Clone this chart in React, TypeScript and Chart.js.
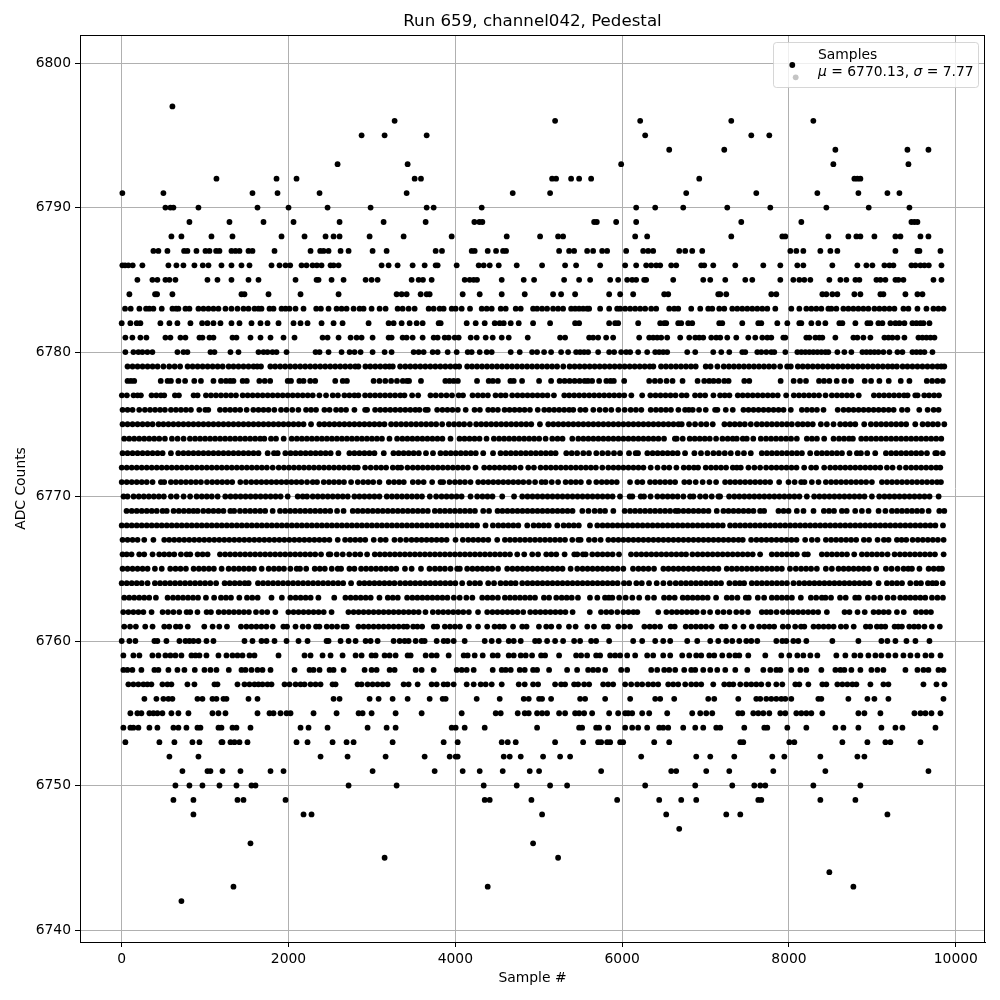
import React, { useEffect, useRef } from "react";
import { Chart, registerables } from "chart.js";

Chart.register(...registerables);

const chartTitle = "Run 659, channel042, Pedestal";
const xLabel = "Sample #";
const yLabel = "ADC Counts";
const legendTitle = "Samples";
const legendMean = "6770.13";
const legendSigma = "7.77";
const xTicks = [0, 2000, 4000, 6000, 8000, 10000];
const yTicks = [6740, 6750, 6760, 6770, 6780, 6790, 6800];

// Sample numbers, one array per ADC level.
const s6797 = [608];
const s6796 = [3272, 5196, 6216, 7308, 8292];
const s6795 = [2876, 3152, 3656, 6276, 7548, 7764];
const s6794 = [6564, 7224, 8556, 9420, 9672];
const s6793 = [2588, 3428, 5988, 8532, 9432];
const s6792 = [1136, 1856, 2096, 3512, 3588, 5160, 5208, 5388, 5484, 5628, 6924, 8784, 8820, 8856];
const s6791 = [8, 500, 1568, 1868, 2372, 3416, 4688, 5136, 6768, 7608, 8340, 8832, 9180, 9324];
const s6790 = [524, 584, 620, 920, 1628, 2000, 2468, 2984, 3656, 3740, 4316, 6168, 6396, 6732, 7260, 7776, 8448, 8956, 9444];
const s6789 = [812, 1292, 1700, 2060, 2612, 3140, 3644, 4228, 4288, 4324, 5664, 5696, 5928, 6168, 7428, 8148, 9468, 9504, 9540];
const s6788 = [596, 716, 1076, 1328, 1916, 2192, 2444, 2540, 2612, 2972, 3380, 3956, 4616, 5016, 5232, 5292, 6156, 6300, 7308, 7920, 7956, 8472, 8712, 8808, 8856, 9024, 9276, 9336, 9576, 9672];
const s6787 = [380, 440, 548, 748, 788, 896, 1004, 1052, 1132, 1172, 1316, 1364, 1412, 1520, 1568, 1832, 2264, 2380, 2420, 2480, 2624, 2720, 3008, 3176, 3764, 3840, 4196, 4232, 4388, 4488, 4572, 4608, 5244, 5364, 5424, 5580, 5652, 5760, 5820, 6048, 6252, 6312, 6372, 6684, 6756, 6840, 6960, 8016, 8088, 8172, 8376, 8496, 8580, 9276, 9540, 9564, 9816];
const s6786 = [8, 40, 80, 132, 248, 560, 656, 740, 872, 972, 1040, 1196, 1316, 1436, 1532, 1796, 1892, 1964, 2020, 2156, 2216, 2288, 2340, 2396, 2504, 2540, 2600, 3116, 3200, 3308, 3488, 3632, 3764, 3788, 4016, 4280, 4340, 4412, 4520, 4736, 5040, 5316, 5448, 5736, 6036, 6168, 6288, 6348, 6408, 6456, 6588, 6648, 6948, 6984, 7092, 7356, 7692, 7896, 8100, 8172, 8520, 8820, 8928, 9000, 9144, 9204, 9252, 9468, 9516, 9576, 9624, 9676, 9828];
const s6785 = [188, 368, 428, 524, 572, 644, 1028, 1148, 1316, 1520, 1640, 2084, 2336, 2360, 2516, 2660, 2924, 2996, 3068, 3476, 3560, 3612, 3716, 4112, 4172, 4220, 4260, 4556, 4820, 4944, 5304, 5484, 5616, 5856, 5952, 6060, 6120, 6168, 6264, 6288, 6612, 6972, 7056, 7236, 7476, 7560, 7896, 8052, 8124, 8184, 8256, 8484, 8616, 8688, 8796, 8844, 9048, 9096, 9156, 9276, 9312, 9372, 9732, 9828];
const s6784 = [92, 400, 424, 608, 1436, 1472, 1760, 2144, 2600, 3296, 3356, 3416, 3584, 3656, 3692, 4088, 4292, 4556, 4832, 5172, 5268, 5436, 5844, 5976, 6132, 6504, 6552, 7152, 7176, 7248, 7788, 7848, 8400, 8448, 8520, 8580, 8784, 8856, 9096, 9132, 9396, 9540, 9600];
const s6783 = [40, 108, 212, 292, 332, 380, 480, 608, 652, 680, 764, 812, 920, 980, 1040, 1100, 1160, 1244, 1316, 1388, 1460, 1520, 1592, 1640, 1676, 1772, 1820, 1916, 1964, 2012, 2084, 2180, 2332, 2388, 2480, 2576, 2636, 2696, 2780, 2852, 2900, 2996, 3092, 3164, 3308, 3368, 3440, 3512, 3680, 3740, 3812, 3860, 3956, 4004, 4076, 4176, 4316, 4376, 4436, 4544, 4604, 4724, 4784, 4932, 4980, 5040, 5100, 5172, 5232, 5292, 5388, 5436, 5484, 5532, 5580, 5604, 5736, 5844, 5940, 5976, 6036, 6096, 6156, 6216, 6276, 6348, 6408, 6564, 6624, 6672, 6828, 6936, 7032, 7080, 7164, 7224, 7320, 7380, 7440, 7500, 7560, 7620, 7680, 7740, 7836, 8028, 8124, 8208, 8268, 8328, 8388, 8472, 8508, 8568, 8652, 8712, 8772, 8832, 8892, 8952, 9024, 9084, 9144, 9204, 9264, 9372, 9432, 9540, 9648, 9732, 9792, 9852];
const s6782 = [0, 104, 180, 224, 464, 572, 668, 824, 964, 1028, 1100, 1184, 1316, 1412, 1556, 1664, 1748, 1880, 2060, 2144, 2228, 2396, 2540, 2648, 2960, 3200, 3260, 3356, 3452, 3536, 3608, 3800, 3824, 4136, 4244, 4352, 4472, 4532, 4580, 4664, 4760, 4932, 5136, 5436, 5484, 5844, 5916, 5952, 6192, 6456, 6504, 6528, 6672, 6708, 6792, 6840, 7164, 7200, 7440, 7632, 7668, 7860, 7980, 8124, 8148, 8268, 8352, 8436, 8604, 8640, 8796, 8940, 8976, 9072, 9120, 9216, 9276, 9324, 9384, 9480, 9528, 9576, 9612, 9684];
const s6781 = [44, 128, 224, 296, 524, 584, 704, 764, 932, 968, 1052, 1100, 1328, 1376, 1544, 1664, 1784, 1940, 2072, 2408, 2468, 2600, 2744, 2816, 2876, 3008, 3200, 3236, 3368, 3416, 3488, 3608, 3740, 3788, 3872, 3920, 3992, 4040, 4184, 4256, 4364, 4448, 4556, 4640, 4868, 5256, 5316, 5604, 5652, 5712, 5808, 5892, 6204, 6324, 6372, 6420, 6468, 6540, 6696, 6804, 6876, 6924, 6972, 7068, 7128, 7176, 7260, 7368, 7512, 7596, 7680, 7740, 7788, 7932, 7956, 8208, 8244, 8316, 8364, 8400, 8556, 8772, 8820, 8892, 8976, 9144, 9192, 9240, 9300, 9384, 9552, 9600, 9648, 9696, 9744];
const s6780 = [44, 140, 200, 248, 308, 368, 668, 740, 788, 1064, 1112, 1304, 1400, 1640, 1700, 1748, 1808, 1856, 1976, 2324, 2372, 2480, 2636, 2732, 2792, 2864, 3008, 3152, 3236, 3500, 3560, 3620, 3728, 3788, 3908, 4016, 4148, 4196, 4292, 4376, 4436, 4664, 4772, 4920, 4980, 5064, 5148, 5268, 5352, 5448, 5496, 5544, 5592, 5712, 5844, 5904, 5988, 6048, 6096, 6192, 6300, 6396, 6444, 6492, 6540, 6780, 6876, 7092, 7188, 7284, 7440, 7476, 7620, 7668, 7728, 7788, 7824, 7956, 8100, 8148, 8196, 8244, 8292, 8340, 8388, 8436, 8472, 8580, 8664, 8748, 8880, 8928, 8976, 9024, 9072, 9132, 9204, 9300, 9360, 9480, 9528, 9576, 9624, 9720];
const s6779 = [70, 130, 190, 250, 310, 370, 430, 500, 570, 635, 700, 790, 850, 910, 970, 1030, 1090, 1150, 1210, 1282, 1340, 1400, 1460, 1520, 1580, 1625, 1670, 1782, 1840, 1900, 1960, 2020, 2080, 2140, 2200, 2260, 2320, 2380, 2440, 2500, 2560, 2620, 2680, 2740, 2800, 2838, 2922, 2980, 3040, 3100, 3160, 3210, 3250, 3338, 3400, 3460, 3520, 3580, 3640, 3700, 3760, 3820, 3880, 3940, 4000, 4046, 4142, 4200, 4260, 4320, 4380, 4440, 4500, 4560, 4620, 4680, 4740, 4800, 4860, 4920, 4980, 5040, 5100, 5160, 5220, 5294, 5370, 5430, 5490, 5550, 5610, 5670, 5730, 5790, 5850, 5910, 5970, 6030, 6090, 6150, 6210, 6270, 6330, 6374, 6466, 6525, 6585, 6645, 6705, 6765, 6825, 6882, 7002, 7060, 7142, 7218, 7280, 7340, 7400, 7460, 7520, 7580, 7640, 7700, 7760, 7820, 7894, 7978, 8022, 8106, 8165, 8225, 8285, 8345, 8405, 8465, 8525, 8585, 8645, 8705, 8765, 8825, 8885, 8945, 9005, 9065, 9125, 9185, 9240, 9294, 9362, 9420, 9480, 9540, 9600, 9660, 9720, 9780, 9862, 9825];
const s6778 = [70, 110, 150, 468, 550, 590, 680, 760, 870, 950, 1100, 1190, 1250, 1300, 1340, 1450, 1500, 1650, 1715, 1780, 1990, 2030, 2130, 2180, 2260, 2320, 2560, 2650, 2700, 3020, 3090, 3160, 3230, 3300, 3370, 3420, 3445, 3588, 3880, 3930, 3980, 4030, 4260, 4400, 4450, 4510, 4660, 4700, 4800, 5004, 5148, 5250, 5310, 5370, 5430, 5490, 5550, 5590, 5640, 5724, 5810, 5860, 5900, 6024, 6324, 6392, 6456, 6532, 6604, 6724, 6904, 6984, 7044, 7096, 7156, 7224, 7276, 7464, 7524, 7900, 8056, 8132, 8204, 8360, 8420, 8484, 8572, 8664, 8744, 8908, 8984, 9084, 9196, 9340, 9444, 9652, 9716, 9780, 9844];
const s6777 = [2, 62, 142, 190, 230, 358, 415, 470, 510, 638, 686, 862, 910, 1010, 1070, 1130, 1190, 1250, 1310, 1370, 1450, 1510, 1570, 1630, 1690, 1750, 1810, 1870, 1930, 1990, 2050, 2110, 2170, 2230, 2290, 2370, 2450, 2530, 2592, 2670, 2730, 2790, 2838, 2918, 2978, 3038, 3098, 3158, 3218, 3278, 3340, 3390, 3482, 3554, 3702, 3765, 3830, 3894, 3960, 4040, 4092, 4206, 4270, 4330, 4390, 4482, 4545, 4602, 4682, 4745, 4805, 4865, 4925, 4985, 5045, 5105, 5182, 5306, 5365, 5425, 5485, 5545, 5605, 5665, 5725, 5785, 5845, 5905, 5965, 6025, 6110, 6240, 6338, 6400, 6460, 6520, 6580, 6640, 6714, 6772, 6874, 6935, 6995, 7094, 7174, 7230, 7286, 7386, 7445, 7505, 7565, 7625, 7685, 7745, 7805, 7865, 7966, 8058, 8120, 8180, 8240, 8300, 8360, 8438, 8514, 8575, 8635, 8695, 8754, 8836, 9018, 9080, 9140, 9200, 9260, 9320, 9380, 9422, 9514, 9542, 9622, 9680, 9740, 9798];
const s6776 = [10, 70, 130, 210, 278, 340, 400, 460, 518, 590, 650, 710, 770, 830, 930, 1002, 1038, 1178, 1240, 1300, 1360, 1420, 1498, 1578, 1640, 1700, 1760, 1830, 1910, 1975, 2045, 2118, 2210, 2270, 2330, 2430, 2492, 2570, 2630, 2690, 2790, 2918, 2942, 3038, 3100, 3160, 3220, 3280, 3340, 3400, 3460, 3520, 3570, 3642, 3670, 3782, 3845, 3905, 3965, 4030, 4124, 4230, 4294, 4394, 4450, 4510, 4590, 4650, 4710, 4770, 4830, 4894, 4988, 5066, 5125, 5185, 5245, 5305, 5365, 5414, 5498, 5560, 5654, 5730, 5800, 5870, 5954, 6030, 6102, 6165, 6230, 6342, 6405, 6465, 6525, 6585, 6674, 6754, 6800, 6846, 6922, 7002, 7114, 7142, 7242, 7326, 7454, 7515, 7575, 7635, 7695, 7755, 7815, 7875, 7935, 8022, 8154, 8215, 8275, 8335, 8414, 8584, 8654, 8715, 8775, 8835, 8895, 8955, 9015, 9075, 9135, 9195, 9255, 9354, 9420, 9562, 9662, 9734, 9794];
const s6775 = [10, 70, 130, 190, 250, 310, 370, 442, 500, 560, 620, 680, 740, 800, 860, 920, 980, 1040, 1100, 1160, 1220, 1280, 1340, 1400, 1460, 1520, 1580, 1640, 1700, 1760, 1820, 1880, 1940, 2000, 2060, 2120, 2180, 2270, 2370, 2430, 2490, 2550, 2610, 2670, 2730, 2790, 2850, 2910, 2970, 3030, 3090, 3150, 3230, 3290, 3350, 3410, 3470, 3530, 3590, 3650, 3710, 3770, 3842, 3922, 3985, 4045, 4105, 4174, 4250, 4310, 4370, 4430, 4490, 4550, 4610, 4670, 4730, 4790, 4850, 4910, 5014, 5114, 5175, 5235, 5295, 5355, 5415, 5475, 5535, 5595, 5655, 5715, 5775, 5835, 5895, 5955, 6015, 6075, 6135, 6195, 6255, 6315, 6375, 6435, 6495, 6555, 6615, 6675, 6714, 6802, 6874, 6946, 7010, 7086, 7226, 7290, 7350, 7410, 7470, 7542, 7614, 7675, 7735, 7795, 7855, 7915, 7975, 8034, 8106, 8165, 8225, 8285, 8382, 8454, 8534, 8614, 8675, 8735, 8795, 8902, 8982, 9045, 9105, 9165, 9225, 9285, 9345, 9405, 9514, 9602, 9665, 9725, 9785, 9862];
const s6774 = [30, 90, 150, 210, 270, 330, 390, 450, 518, 602, 670, 742, 818, 880, 940, 1000, 1060, 1120, 1180, 1240, 1300, 1360, 1420, 1480, 1540, 1600, 1660, 1710, 1790, 1850, 1942, 2038, 2100, 2160, 2220, 2280, 2340, 2400, 2460, 2520, 2580, 2640, 2700, 2760, 2820, 2880, 2940, 3000, 3060, 3120, 3210, 3302, 3365, 3425, 3485, 3545, 3605, 3665, 3725, 3785, 3845, 3942, 4050, 4110, 4170, 4230, 4290, 4374, 4462, 4525, 4585, 4645, 4705, 4765, 4825, 4885, 4945, 5005, 5082, 5162, 5225, 5285, 5402, 5474, 5535, 5595, 5655, 5715, 5775, 5835, 5895, 5955, 6015, 6075, 6135, 6195, 6255, 6315, 6375, 6435, 6502, 6632, 6654, 6726, 6810, 6870, 6930, 6990, 7050, 7126, 7202, 7265, 7325, 7374, 7446, 7494, 7572, 7662, 7725, 7785, 7845, 7905, 7965, 8025, 8094, 8214, 8275, 8335, 8422, 8534, 8600, 8660, 8720, 8766, 8866, 8925, 8985, 9045, 9105, 9165, 9225, 9285, 9345, 9405, 9465, 9525, 9585, 9645, 9705, 9765, 9826];
const s6773 = [10, 70, 130, 190, 250, 310, 370, 430, 490, 590, 678, 740, 800, 860, 920, 980, 1040, 1100, 1160, 1220, 1280, 1340, 1400, 1460, 1520, 1580, 1640, 1750, 1826, 1870, 1962, 2025, 2085, 2145, 2205, 2265, 2325, 2385, 2445, 2505, 2598, 2730, 2790, 2850, 2910, 2970, 3030, 3142, 3258, 3320, 3380, 3440, 3500, 3562, 3648, 3732, 3822, 3885, 3945, 4005, 4065, 4125, 4185, 4245, 4334, 4452, 4542, 4605, 4665, 4725, 4785, 4845, 4905, 4965, 5025, 5085, 5145, 5202, 5330, 5395, 5460, 5534, 5602, 5690, 5762, 5830, 5902, 5974, 6082, 6162, 6190, 6302, 6365, 6425, 6485, 6545, 6605, 6665, 6754, 6866, 6945, 7022, 7094, 7160, 7230, 7302, 7386, 7460, 7542, 7674, 7735, 7795, 7855, 7915, 7975, 8035, 8095, 8155, 8254, 8334, 8395, 8455, 8515, 8575, 8635, 8726, 8814, 8862, 8938, 9034, 9162, 9225, 9285, 9345, 9405, 9465, 9525, 9585, 9654, 9754, 9774, 9844];
const s6772 = [0, 60, 120, 180, 240, 300, 360, 420, 480, 540, 600, 660, 720, 780, 840, 900, 960, 1020, 1080, 1140, 1200, 1260, 1320, 1380, 1440, 1500, 1560, 1620, 1680, 1740, 1810, 1882, 1945, 2005, 2065, 2125, 2185, 2245, 2305, 2365, 2425, 2485, 2545, 2605, 2665, 2725, 2785, 2830, 2918, 2985, 3050, 3110, 3170, 3250, 3310, 3350, 3426, 3490, 3550, 3610, 3670, 3730, 3790, 3850, 3910, 3970, 4030, 4090, 4150, 4242, 4346, 4410, 4470, 4530, 4590, 4650, 4710, 4782, 4874, 4942, 5022, 5085, 5145, 5205, 5265, 5325, 5385, 5445, 5505, 5565, 5625, 5685, 5762, 5834, 5895, 5955, 6015, 6075, 6135, 6195, 6255, 6342, 6424, 6502, 6565, 6650, 6738, 6800, 6860, 6910, 7002, 7065, 7125, 7185, 7246, 7326, 7375, 7422, 7514, 7585, 7654, 7726, 7790, 7850, 7910, 7970, 8030, 8090, 8182, 8266, 8325, 8422, 8494, 8555, 8615, 8675, 8735, 8795, 8855, 8915, 8975, 9035, 9095, 9174, 9242, 9326, 9402, 9465, 9525, 9585, 9645, 9705, 9765, 9814];
const s6771 = [0, 60, 120, 180, 240, 300, 370, 470, 510, 590, 650, 710, 770, 830, 890, 950, 1022, 1085, 1145, 1205, 1265, 1325, 1422, 1490, 1554, 1615, 1675, 1735, 1795, 1855, 1915, 1975, 2035, 2095, 2155, 2222, 2290, 2342, 2422, 2485, 2545, 2605, 2665, 2750, 2830, 2895, 2955, 3015, 3090, 3202, 3265, 3325, 3382, 3490, 3555, 3620, 3722, 3822, 3854, 3930, 3995, 4055, 4115, 4182, 4274, 4335, 4395, 4455, 4515, 4575, 4635, 4695, 4755, 4815, 4882, 4956, 5034, 5082, 5156, 5232, 5322, 5385, 5445, 5505, 5602, 5690, 5755, 5815, 5875, 5935, 6094, 6182, 6242, 6334, 6395, 6455, 6515, 6575, 6635, 6806, 6745, 6882, 6965, 7046, 7126, 7234, 7295, 7355, 7415, 7475, 7535, 7595, 7655, 7715, 7774, 7882, 7994, 8068, 8146, 8186, 8274, 8354, 8442, 8505, 8565, 8625, 8685, 8745, 8805, 8865, 8925, 8994, 9114, 9175, 9235, 9295, 9355, 9415, 9475, 9535, 9595, 9655, 9715, 9775, 9822];
const s6770 = [22, 70, 142, 205, 265, 325, 385, 445, 505, 590, 658, 742, 820, 898, 960, 1020, 1080, 1150, 1242, 1305, 1365, 1425, 1485, 1545, 1605, 1665, 1725, 1785, 1845, 1905, 1990, 2110, 2170, 2222, 2290, 2350, 2410, 2470, 2530, 2590, 2650, 2710, 2790, 2850, 2910, 2970, 3030, 3090, 3178, 3240, 3300, 3360, 3420, 3480, 3540, 3600, 3694, 3770, 3835, 3895, 3955, 4015, 4075, 4182, 4262, 4325, 4385, 4445, 4562, 4704, 4802, 4865, 4925, 4985, 5045, 5105, 5165, 5225, 5285, 5345, 5405, 5465, 5525, 5585, 5645, 5705, 5765, 5825, 5885, 5974, 6090, 6122, 6222, 6262, 6340, 6422, 6485, 6545, 6605, 6665, 6734, 6814, 6854, 6934, 7000, 7074, 7154, 7174, 7282, 7345, 7405, 7465, 7525, 7585, 7645, 7705, 7765, 7825, 7885, 7945, 8005, 8065, 8125, 8214, 8302, 8365, 8425, 8485, 8545, 8605, 8665, 8725, 8785, 8845, 8905, 8994, 9082, 9145, 9205, 9265, 9325, 9385, 9445, 9505, 9565, 9625, 9685, 9794];
const s6769 = [58, 120, 180, 240, 300, 360, 420, 490, 540, 622, 685, 745, 805, 860, 910, 978, 1040, 1100, 1160, 1220, 1302, 1348, 1418, 1480, 1540, 1600, 1660, 1720, 1810, 1898, 1960, 2020, 2080, 2140, 2200, 2260, 2320, 2380, 2440, 2500, 2582, 2660, 2770, 2830, 2890, 2950, 3010, 3070, 3130, 3190, 3250, 3310, 3370, 3430, 3490, 3550, 3610, 3670, 3754, 3815, 3875, 3935, 3995, 4055, 4115, 4175, 4235, 4334, 4404, 4506, 4565, 4625, 4685, 4745, 4805, 4865, 4925, 4985, 5045, 5105, 5165, 5225, 5285, 5345, 5405, 5522, 5596, 5670, 5735, 5795, 5894, 6030, 6095, 6155, 6215, 6275, 6335, 6395, 6455, 6515, 6575, 6640, 6674, 6735, 6795, 6855, 6915, 6975, 7035, 7134, 7214, 7275, 7335, 7395, 7455, 7515, 7574, 7654, 7702, 7874, 7935, 7995, 8094, 8174, 8294, 8418, 8480, 8540, 8634, 8692, 8794, 8874, 8954, 9074, 9156, 9234, 9295, 9355, 9415, 9475, 9535, 9595, 9674, 9802, 9862];
const s6768 = [0, 60, 120, 180, 240, 300, 360, 420, 480, 540, 600, 660, 720, 780, 840, 900, 960, 1020, 1080, 1140, 1200, 1260, 1320, 1380, 1440, 1500, 1560, 1620, 1680, 1740, 1800, 1860, 1920, 1980, 2040, 2100, 2160, 2220, 2280, 2340, 2400, 2460, 2520, 2580, 2640, 2700, 2760, 2820, 2880, 2940, 3000, 3060, 3120, 3180, 3240, 3300, 3360, 3420, 3480, 3540, 3600, 3660, 3720, 3780, 3840, 3900, 3960, 4020, 4080, 4140, 4200, 4260, 4362, 4450, 4515, 4575, 4635, 4695, 4755, 4862, 4938, 5000, 5060, 5120, 5222, 5298, 5360, 5420, 5480, 5614, 5702, 5765, 5825, 5885, 5945, 6005, 6065, 6125, 6185, 6245, 6305, 6365, 6425, 6485, 6545, 6605, 6665, 6725, 6785, 6845, 6905, 6965, 7025, 7085, 7145, 7206, 7294, 7355, 7415, 7475, 7535, 7595, 7655, 7715, 7775, 7835, 7895, 7955, 8015, 8075, 8135, 8195, 8255, 8315, 8375, 8435, 8495, 8555, 8615, 8675, 8735, 8795, 8855, 8915, 8975, 9035, 9095, 9155, 9215, 9275, 9335, 9395, 9455, 9515, 9575, 9635, 9695, 9755, 9846];
const s6767 = [10, 70, 130, 190, 270, 380, 510, 570, 630, 690, 750, 810, 870, 930, 990, 1050, 1110, 1170, 1230, 1290, 1350, 1410, 1470, 1530, 1590, 1650, 1710, 1770, 1830, 1890, 1950, 2010, 2070, 2130, 2190, 2250, 2310, 2370, 2430, 2490, 2590, 2678, 2740, 2800, 2860, 2920, 3022, 3102, 3165, 3270, 3340, 3410, 3475, 3535, 3595, 3655, 3715, 3775, 3835, 3895, 4002, 4090, 4155, 4215, 4275, 4335, 4395, 4502, 4594, 4655, 4715, 4775, 4835, 4895, 4955, 5015, 5075, 5135, 5195, 5255, 5315, 5402, 5474, 5502, 5602, 5670, 5742, 5834, 5895, 5955, 6015, 6075, 6135, 6195, 6255, 6315, 6375, 6435, 6495, 6555, 6615, 6675, 6735, 6795, 6855, 6915, 6975, 7035, 7095, 7155, 7215, 7275, 7335, 7395, 7446, 7546, 7610, 7670, 7730, 7790, 7850, 7910, 7970, 8030, 8090, 8194, 8274, 8342, 8442, 8505, 8565, 8625, 8685, 8745, 8806, 8898, 8960, 9062, 9138, 9194, 9294, 9350, 9406, 9482, 9545, 9605, 9665, 9725, 9785, 9854];
const s6766 = [10, 118, 60, 210, 270, 370, 450, 510, 570, 630, 710, 778, 822, 910, 970, 1030, 1178, 1240, 1300, 1360, 1420, 1480, 1540, 1600, 1660, 1720, 1780, 1840, 1900, 1960, 2020, 2080, 2140, 2200, 2260, 2320, 2390, 2482, 2502, 2578, 2650, 2728, 2798, 2860, 2942, 3034, 3095, 3155, 3215, 3275, 3335, 3395, 3455, 3515, 3575, 3635, 3695, 3755, 3815, 3875, 3935, 3995, 4055, 4115, 4175, 4235, 4295, 4355, 4415, 4475, 4535, 4595, 4655, 4742, 4826, 4922, 4992, 5090, 5150, 5210, 5310, 5426, 5462, 5530, 5562, 5642, 5705, 5765, 5825, 5885, 5962, 6106, 6170, 6230, 6290, 6350, 6410, 6470, 6530, 6590, 6650, 6766, 6710, 6842, 6905, 6965, 7025, 7085, 7145, 7205, 7265, 7325, 7385, 7445, 7505, 7565, 7654, 7794, 7855, 7915, 7975, 8035, 8094, 8186, 8226, 8394, 8455, 8515, 8575, 8635, 8695, 8782, 8874, 8935, 8995, 9055, 9115, 9182, 9266, 9330, 9390, 9450, 9510, 9570, 9630, 9690, 9750, 9854];
const s6765 = [10, 70, 130, 190, 250, 310, 398, 480, 582, 645, 705, 770, 862, 925, 985, 1045, 1105, 1198, 1282, 1345, 1405, 1465, 1525, 1585, 1678, 1762, 1825, 1885, 1945, 2022, 2098, 2138, 2212, 2314, 2375, 2435, 2518, 2590, 2630, 2730, 2790, 2870, 2930, 2990, 3050, 3110, 3170, 3232, 3292, 3396, 3476, 3588, 3690, 3755, 3815, 3875, 3942, 4022, 4054, 4142, 4205, 4265, 4325, 4385, 4442, 4512, 4622, 4685, 4745, 4805, 4865, 4925, 4985, 5045, 5105, 5165, 5225, 5285, 5382, 5462, 5525, 5585, 5645, 5705, 5765, 5825, 5885, 5945, 6014, 6130, 6195, 6255, 6315, 6382, 6494, 6555, 6615, 6675, 6735, 6795, 6855, 6915, 6975, 7035, 7095, 7154, 7254, 7315, 7375, 7435, 7495, 7555, 7615, 7675, 7735, 7795, 7855, 7914, 8012, 8082, 8145, 8205, 8265, 8334, 8442, 8514, 8594, 8655, 8715, 8775, 8835, 8895, 8955, 9046, 9162, 9230, 9302, 9374, 9430, 9474, 9564, 9674, 9735, 9795, 9834];
const s6764 = [0, 60, 120, 180, 240, 310, 398, 460, 520, 580, 640, 700, 760, 820, 880, 940, 1000, 1062, 1132, 1234, 1295, 1355, 1415, 1475, 1522, 1634, 1695, 1755, 1815, 1875, 1935, 1995, 2055, 2115, 2175, 2235, 2295, 2355, 2415, 2475, 2535, 2595, 2655, 2750, 2850, 2910, 2970, 3030, 3090, 3150, 3210, 3270, 3338, 3400, 3460, 3520, 3580, 3640, 3700, 3760, 3820, 3880, 3940, 4000, 4082, 4170, 4235, 4295, 4394, 4464, 4542, 4605, 4665, 4722, 4802, 4865, 4925, 4985, 5045, 5105, 5165, 5225, 5285, 5345, 5405, 5465, 5525, 5585, 5645, 5705, 5765, 5825, 5885, 5945, 6022, 6084, 6170, 6235, 6322, 6414, 6494, 6572, 6642, 6705, 6765, 6825, 6885, 6945, 7005, 7065, 7125, 7185, 7286, 7354, 7410, 7462, 7554, 7615, 7675, 7735, 7795, 7855, 7915, 7975, 8054, 8122, 8185, 8245, 8305, 8365, 8425, 8485, 8545, 8605, 8665, 8725, 8785, 8845, 8905, 8965, 9074, 9174, 9235, 9295, 9355, 9454, 9526, 9582, 9666, 9720, 9766, 9844];
const s6763 = [30, 90, 150, 210, 270, 330, 410, 550, 615, 675, 735, 795, 855, 915, 1010, 1108, 1190, 1250, 1310, 1410, 1502, 1565, 1630, 1796, 1920, 2022, 2085, 2145, 2205, 2265, 2358, 2548, 2682, 2745, 2805, 2865, 2925, 2985, 3090, 3190, 3250, 3310, 3422, 3485, 3545, 3605, 3665, 3725, 3785, 3845, 3905, 3982, 4052, 4132, 4204, 4322, 4385, 4445, 4510, 4594, 4655, 4715, 4775, 4835, 4895, 4955, 5062, 5124, 5210, 5275, 5335, 5395, 5470, 5614, 5702, 5794, 5840, 5882, 5964, 6042, 6122, 6204, 6306, 6382, 6502, 6565, 6630, 6726, 6785, 6845, 6905, 6965, 7025, 7126, 7254, 7315, 7382, 7482, 7518, 7626, 7702, 7794, 7855, 7915, 7975, 8035, 8142, 8262, 8326, 8394, 8438, 8504, 8612, 8680, 8794, 8838, 8946, 9020, 9094, 9182, 9254, 9334, 9395, 9455, 9515, 9575, 9634, 9714, 9780, 9846];
const s6762 = [18, 80, 140, 200, 260, 358, 490, 555, 620, 690, 778, 822, 908, 1018, 1070, 1162, 1225, 1285, 1345, 1405, 1465, 1525, 1610, 1682, 1745, 1842, 1998, 2060, 2120, 2180, 2240, 2300, 2360, 2422, 2516, 2718, 2780, 2840, 2900, 2960, 3020, 3080, 3140, 3200, 3260, 3320, 3380, 3440, 3500, 3560, 3642, 3730, 3795, 3855, 3915, 3975, 4035, 4095, 4162, 4272, 4382, 4445, 4505, 4565, 4625, 4685, 4745, 4814, 4898, 4960, 5020, 5080, 5140, 5200, 5260, 5320, 5406, 5612, 5746, 5810, 5870, 5942, 6014, 6075, 6135, 6182, 6432, 6530, 6595, 6655, 6715, 6775, 6835, 6894, 6974, 7054, 7146, 7215, 7286, 7368, 7436, 7508, 7674, 7730, 7782, 7852, 7926, 7990, 8050, 8110, 8170, 8230, 8290, 8350, 8454, 8666, 8725, 8822, 8908, 9014, 9075, 9135, 9195, 9294, 9376, 9522, 9585, 9645, 9702];
const s6761 = [30, 100, 170, 282, 370, 510, 570, 650, 702, 792, 990, 1090, 1170, 1262, 1430, 1495, 1555, 1615, 1675, 1735, 1810, 1938, 1982, 2084, 2170, 2238, 2330, 2370, 2458, 2520, 2582, 2658, 2698, 2838, 2900, 2960, 3020, 3080, 3140, 3200, 3260, 3320, 3380, 3422, 3494, 3545, 3602, 3742, 3782, 3874, 3935, 3995, 4055, 4162, 4272, 4382, 4470, 4530, 4582, 4692, 4802, 4854, 5002, 5090, 5150, 5242, 5362, 5442, 5582, 5662, 5782, 5830, 5954, 6025, 6094, 6266, 6330, 6390, 6454, 6582, 6630, 6762, 6825, 6885, 6945, 7005, 7074, 7194, 7242, 7348, 7454, 7554, 7642, 7705, 7765, 7822, 7926, 7990, 8074, 8144, 8184, 8294, 8355, 8415, 8475, 8535, 8622, 8684, 8776, 8922, 8974, 9054, 9105, 9154, 9266, 9310, 9354, 9442, 9500, 9554, 9624, 9712, 9808];
const s6760 = [0, 92, 164, 392, 428, 536, 692, 764, 812, 860, 920, 1016, 1100, 1472, 1568, 1676, 1736, 1832, 1976, 2120, 2228, 2456, 2480, 2624, 2720, 2804, 2924, 2984, 3068, 3260, 3332, 3392, 3440, 3524, 3596, 3632, 3776, 3860, 3908, 3980, 4112, 4352, 4436, 4520, 4640, 4700, 4784, 4956, 5004, 5100, 5196, 5292, 5424, 5496, 5628, 5688, 5844, 6132, 6240, 6396, 6492, 6576, 6780, 6900, 7056, 7152, 7248, 7320, 7404, 7488, 7548, 7620, 7848, 7920, 7968, 8052, 8112, 8208, 8520, 8832, 9108, 9180, 9276, 9408, 9516, 9684];
const s6759 = [20, 140, 212, 368, 440, 524, 584, 644, 716, 836, 884, 932, 1016, 1160, 1256, 1328, 1388, 1448, 1532, 1592, 1880, 2192, 2264, 2408, 2504, 2648, 2804, 2876, 2996, 3044, 3152, 3212, 3284, 3428, 3464, 3644, 3716, 3776, 3920, 4100, 4148, 4232, 4328, 4448, 4508, 4640, 4700, 4784, 4844, 4920, 5028, 5076, 5244, 5448, 5508, 5580, 5688, 5736, 5856, 5916, 5976, 6060, 6156, 6300, 6372, 6492, 6576, 6720, 6804, 6888, 6948, 7044, 7104, 7200, 7284, 7356, 7404, 7512, 7716, 7908, 8004, 8100, 8172, 8256, 8340, 8568, 8676, 8784, 8856, 8952, 9036, 9108, 9192, 9276, 9372, 9456, 9540, 9636, 9708, 9816];
const s6758 = [20, 68, 128, 236, 392, 440, 560, 668, 752, 876, 992, 1064, 1136, 1284, 1436, 1484, 1556, 1628, 1688, 1784, 2072, 2252, 2300, 2372, 2492, 2540, 2660, 2912, 2996, 3056, 3212, 3272, 3524, 3596, 3740, 4016, 4076, 4136, 4220, 4448, 4556, 4604, 4664, 4772, 4832, 4932, 4980, 5124, 5340, 5460, 5592, 5652, 5712, 5796, 5988, 6060, 6348, 6420, 6504, 6564, 6636, 6744, 6828, 6876, 6972, 7056, 7140, 7236, 7356, 7500, 7692, 7776, 7848, 7896, 8028, 8136, 8208, 8388, 8556, 8616, 8664, 8748, 8856, 8988, 9060, 9132, 9396, 9540, 9612, 9672, 9792, 9852];
const s6757 = [80, 140, 200, 260, 308, 356, 488, 548, 596, 788, 872, 1112, 1148, 1388, 1472, 1532, 1592, 1640, 1688, 1748, 1796, 1952, 2012, 2084, 2144, 2192, 2264, 2324, 2384, 2528, 2564, 2828, 2876, 2948, 3008, 3068, 3128, 3188, 3380, 3440, 3548, 3716, 3776, 3860, 3908, 3980, 4136, 4220, 4304, 4364, 4436, 4556, 4760, 4832, 4932, 4992, 5196, 5268, 5316, 5424, 5472, 5544, 5604, 5772, 5832, 5892, 6036, 6108, 6180, 6240, 6312, 6372, 6432, 6552, 6612, 6672, 6756, 6828, 6888, 6948, 7092, 7224, 7284, 7332, 7416, 7488, 7548, 7608, 7668, 7752, 7848, 7920, 8076, 8124, 8232, 8400, 8448, 8580, 8640, 8700, 8760, 8808, 8976, 9132, 9192, 9612, 9768, 9864];
const s6756 = [272, 416, 500, 560, 608, 908, 968, 1088, 1136, 1220, 1256, 1520, 1628, 2540, 2612, 2972, 3080, 3248, 3428, 3692, 3848, 3884, 4256, 4532, 4820, 4880, 5004, 5040, 5148, 5496, 5556, 5796, 6096, 6396, 6456, 6624, 7032, 7104, 7392, 7608, 7656, 7728, 7788, 7848, 7908, 7956, 8028, 8352, 8388, 8712, 8940, 9024, 9192, 9852];
const s6755 = [104, 188, 236, 332, 380, 428, 488, 596, 680, 800, 1088, 1160, 1244, 1628, 1772, 1820, 1904, 1976, 2024, 2300, 2576, 2840, 2888, 2996, 3284, 3596, 4076, 4484, 4544, 4748, 4832, 4880, 4980, 5040, 5100, 5244, 5316, 5436, 5484, 5544, 5640, 5844, 5952, 6036, 6072, 6120, 6240, 6324, 6540, 6840, 6936, 7008, 7080, 7392, 7440, 7572, 7632, 7692, 7764, 7896, 7956, 8088, 8148, 8208, 8268, 8400, 8832, 8904, 9096, 9504, 9576, 9636, 9708, 9816];
const s6754 = [20, 104, 140, 200, 332, 428, 620, 680, 776, 908, 944, 1160, 1196, 1328, 1376, 1544, 2144, 2240, 2468, 2948, 3176, 3284, 3956, 4004, 4112, 4352, 4980, 5484, 5520, 5688, 5724, 5832, 6036, 6120, 6192, 6300, 6444, 6492, 6552, 6732, 6876, 6972, 7128, 7176, 7464, 7704, 7740, 7980, 8208, 8556, 8652, 8832, 9108, 9276, 9360, 9756];
const s6753 = [44, 452, 632, 848, 932, 1196, 1208, 1304, 1352, 1412, 1508, 2096, 2228, 2528, 2696, 2780, 3248, 3860, 4028, 4556, 4628, 4724, 5196, 5532, 5712, 5748, 5820, 5856, 5976, 6012, 6384, 6564, 7416, 7452, 8004, 8064, 8640, 8940, 9156, 9216, 9576];
const s6752 = [572, 920, 2384, 2708, 3164, 3632, 3932, 4004, 4028, 4580, 4652, 4784, 5052, 5256, 5376, 6228, 6888, 7056, 7344, 7800, 7944, 8376, 8820, 8904];
const s6751 = [728, 1028, 1064, 1208, 1424, 1784, 1940, 3008, 3752, 4088, 4292, 4568, 4892, 5004, 5748, 6588, 6648, 7008, 7284, 7812, 8436, 9672];
const s6750 = [644, 812, 968, 1172, 1376, 1556, 1604, 2720, 3296, 4340, 4736, 5136, 5340, 6276, 6876, 7320, 7584, 7656, 7716, 8292, 8856];
const s6749 = [620, 860, 1388, 1460, 1964, 4352, 4412, 4912, 5940, 6444, 6708, 6888, 7632, 7668, 8376, 8796];
const s6748 = [860, 2180, 2276, 5040, 6528, 7248, 7416, 9180];
const s6747 = [6684];
const s6746 = [1544, 4932];
const s6745 = [3152, 5232];
const s6744 = [8484];
const s6743 = [1340, 4388, 8772];
const s6742 = [716];

const levels = [6797, 6796, 6795, 6794, 6793, 6792, 6791, 6790, 6789, 6788, 6787, 6786, 6785, 6784, 6783, 6782, 6781, 6780, 6779, 6778, 6777, 6776, 6775, 6774, 6773, 6772, 6771, 6770, 6769, 6768, 6767, 6766, 6765, 6764, 6763, 6762, 6761, 6760, 6759, 6758, 6757, 6756, 6755, 6754, 6753, 6752, 6751, 6750, 6749, 6748, 6747, 6746, 6745, 6744, 6743, 6742];
const samplesByLevel = [s6797, s6796, s6795, s6794, s6793, s6792, s6791, s6790, s6789, s6788, s6787, s6786, s6785, s6784, s6783, s6782, s6781, s6780, s6779, s6778, s6777, s6776, s6775, s6774, s6773, s6772, s6771, s6770, s6769, s6768, s6767, s6766, s6765, s6764, s6763, s6762, s6761, s6760, s6759, s6758, s6757, s6756, s6755, s6754, s6753, s6752, s6751, s6750, s6749, s6748, s6747, s6746, s6745, s6744, s6743, s6742];

const points = levels.flatMap((level, i) => samplesByLevel[i].map((x) => ({ x, y: level })));

const FONT = "'DejaVu Sans', sans-serif";

const framePlugin = {
  id: "frameAndLegend",
  afterDatasetsDraw(chart: any) {
    const { ctx, chartArea: a } = chart;
    ctx.save();
    ctx.beginPath();
    ctx.roundRect(773.5, 42.5, 205, 45, 3);
    ctx.fillStyle = "rgba(255,255,255,0.8)";
    ctx.fill();
    ctx.strokeStyle = "rgba(204,204,204,0.8)";
    ctx.lineWidth = 1;
    ctx.stroke();
    ctx.fillStyle = "#000";
    ctx.beginPath();
    ctx.arc(792.3, 65, 2.9, 0, Math.PI * 2);
    ctx.fill();
    ctx.fillStyle = "#c4c4c4";
    ctx.beginPath();
    ctx.arc(795.7, 77.3, 2.9, 0, Math.PI * 2);
    ctx.fill();
    ctx.fillStyle = "#000";
    ctx.textBaseline = "alphabetic";
    ctx.textAlign = "left";
    ctx.font = `13.89px ${FONT}`;
    ctx.fillText(legendTitle, 818, 59);
    let x = 818;
    const segs: [string, boolean][] = [
      ["\u03bc", true],
      [` = ${legendMean}, `, false],
      ["\u03c3", true],
      [` = ${legendSigma}`, false],
    ];
    for (const [t, it] of segs) {
      ctx.font = `${it ? "italic " : ""}13.89px ${FONT}`;
      ctx.fillText(t, x, 76);
      x += ctx.measureText(t).width;
    }
    ctx.strokeStyle = "#000";
    ctx.lineWidth = 1;
    ctx.strokeRect(a.left + 0.5, a.top + 0.5, a.right - a.left - 1, a.bottom - a.top);
    ctx.restore();
  },
};

export default function App() {
  const ref = useRef<HTMLCanvasElement>(null);
  useEffect(() => {
    document.body.style.margin = "0";
    const chart = new Chart(ref.current as HTMLCanvasElement, {
      type: "scatter",
      data: {
        datasets: [
          {
            label: legendTitle,
            data: points,
            backgroundColor: "#000",
            borderWidth: 0,
            pointRadius: 2.9,
            clip: false,
          } as any,
        ],
      },
      options: {
        responsive: false,
        animation: false,
        layout: { padding: { right: 15, left: 0, top: 0, bottom: 0 } },
        plugins: {
          legend: { display: false },
          tooltip: { enabled: false },
          title: {
            display: true,
            text: chartTitle,
            fullSize: false,
            color: "#000",
            font: { family: FONT, size: 16.67, weight: "normal", lineHeight: 1.2 },
            padding: { top: 12, bottom: 3 },
          },
        },
        scales: {
          x: {
            type: "linear",
            min: -500,
            max: 10350,
            afterBuildTicks: (s: any) => {
              s.ticks = xTicks.map((value) => ({ value }));
            },
            afterFit: (s: any) => {
              s.height = 58;
              s.paddingLeft = 0;
              s.paddingRight = 0;
            },
            border: { color: "#000", width: 1 },
            grid: { color: "#b0b0b0", lineWidth: 1, tickColor: "#000", tickLength: 5 },
            ticks: {
              autoSkip: false,
              maxRotation: 0,
              color: "#000",
              padding: 4,
              font: { family: FONT, size: 13.89 },
              callback: (v: any) => String(v),
            },
            title: {
              display: true,
              text: xLabel,
              color: "#000",
              font: { family: FONT, size: 13.89 },
              padding: { top: 0, bottom: 13 },
            },
          },
          y: {
            type: "linear",
            min: 6739.17,
            max: 6801.94,
            afterBuildTicks: (s: any) => {
              s.ticks = yTicks.map((value) => ({ value }));
            },
            afterFit: (s: any) => {
              s.width = 80;
              s.paddingTop = 0;
              s.paddingBottom = 0;
            },
            border: { color: "#000", width: 1 },
            grid: { color: "#b0b0b0", lineWidth: 1, tickColor: "#000", tickLength: 5 },
            ticks: {
              autoSkip: false,
              color: "#000",
              padding: 4,
              font: { family: FONT, size: 13.89 },
              callback: (v: any) => String(v),
            },
            title: {
              display: true,
              text: yLabel,
              color: "#000",
              font: { family: FONT, size: 13.89 },
              padding: { top: 13, bottom: 0 },
            },
          },
        },
      },
      plugins: [framePlugin],
    } as any);
    return () => chart.destroy();
  }, []);
  return <canvas ref={ref} width={1000} height={1000} style={{ display: "block" }} />;
}
